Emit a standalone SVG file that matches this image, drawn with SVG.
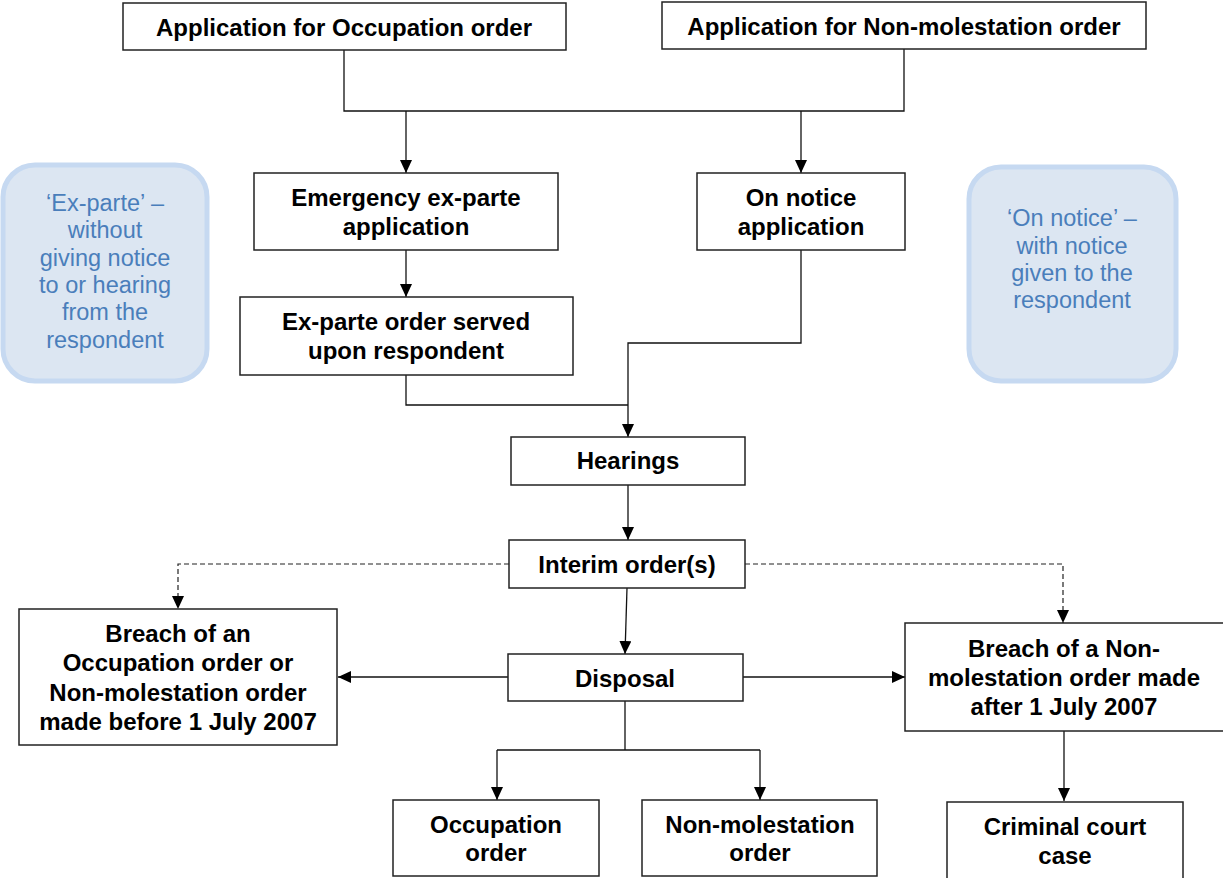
<svg xmlns="http://www.w3.org/2000/svg" width="1223" height="878" viewBox="0 0 1223 878">
<style>
.box{fill:#fff;stroke:#222;stroke-width:1.5}
.note{fill:#dce6f2;stroke:#c6d9f1;stroke-width:5}
.t{font-family:"Liberation Sans",Arial,sans-serif;font-weight:bold;font-size:24px;fill:#000;text-anchor:middle}
.n{font-family:"Liberation Sans",Arial,sans-serif;font-size:23.5px;fill:#4a7ebb;text-anchor:middle}
.c{fill:none;stroke:#111;stroke-width:1.3}
.d{fill:none;stroke:#222;stroke-width:1.2;stroke-dasharray:5 3}
</style>
<defs>
<marker id="ah" markerUnits="userSpaceOnUse" markerWidth="13" markerHeight="12" refX="13" refY="6" orient="auto">
<path d="M0,0 L13,6 L0,12 z" fill="#000"/>
</marker>
</defs>
<g id="connectors">
<path class="c" d="M344 50 V111 H904 V49"/>
<path class="c" d="M406 111 V173" marker-end="url(#ah)"/>
<path class="c" d="M801 111 V173" marker-end="url(#ah)"/>
<path class="c" d="M406 250 V297" marker-end="url(#ah)"/>
<path class="c" d="M406 375 V405 H628"/>
<path class="c" d="M801 250 V343 H628 V437" marker-end="url(#ah)"/>
<path class="c" d="M628 485 V540" marker-end="url(#ah)"/>
<path class="d" d="M509 564 H178 V609" marker-end="url(#ah)"/>
<path class="d" d="M745 564 H1063 V623" marker-end="url(#ah)"/>
<path class="c" d="M627 588 L625 654" marker-end="url(#ah)"/>
<path class="c" d="M508 677 H338" marker-end="url(#ah)"/>
<path class="c" d="M743 677 H905" marker-end="url(#ah)"/>
<path class="c" d="M1064 731 V801" marker-end="url(#ah)"/>
<path class="c" d="M625 700 V750 M497 750 H760"/>
<path class="c" d="M497 750 V800" marker-end="url(#ah)"/>
<path class="c" d="M760 750 V800" marker-end="url(#ah)"/>
</g>
<g id="note-exparte">
<rect class="note" x="3" y="165" width="204" height="216" rx="32"/>
<text class="n" x="105" y="211">‘Ex-parte’ –</text>
<text class="n" x="105" y="238">without</text>
<text class="n" x="105" y="266">giving notice</text>
<text class="n" x="105" y="293">to or hearing</text>
<text class="n" x="105" y="320">from the</text>
<text class="n" x="105" y="348">respondent</text>
</g>
<g id="note-onnotice">
<rect class="note" x="969" y="167" width="207" height="214" rx="32"/>
<text class="n" x="1072" y="226">‘On notice’ –</text>
<text class="n" x="1072" y="254">with notice</text>
<text class="n" x="1072" y="281">given to the</text>
<text class="n" x="1072" y="308">respondent</text>
</g>
<g id="app-occupation">
<rect class="box" x="123" y="3" width="443" height="47"/>
<text class="t" x="344" y="36">Application for Occupation order</text>
</g>
<g id="app-nonmol">
<rect class="box" x="662" y="2" width="484" height="47"/>
<text class="t" x="904" y="35">Application for Non-molestation order</text>
</g>
<g id="emergency">
<rect class="box" x="254" y="173" width="304" height="77"/>
<text class="t" x="406" y="206">Emergency ex-parte</text>
<text class="t" x="406" y="235">application</text>
</g>
<g id="onnotice">
<rect class="box" x="697" y="173" width="208" height="77"/>
<text class="t" x="801" y="206">On notice</text>
<text class="t" x="801" y="235">application</text>
</g>
<g id="exparte-order">
<rect class="box" x="240" y="297" width="333" height="78"/>
<text class="t" x="406" y="330">Ex-parte order served</text>
<text class="t" x="406" y="359">upon respondent</text>
</g>
<g id="hearings">
<rect class="box" x="511" y="437" width="234" height="48"/>
<text class="t" x="628" y="469">Hearings</text>
</g>
<g id="interim">
<rect class="box" x="509" y="540" width="236" height="48"/>
<text class="t" x="627" y="573">Interim order(s)</text>
</g>
<g id="disposal">
<rect class="box" x="508" y="654" width="235" height="47"/>
<text class="t" x="625" y="687">Disposal</text>
</g>
<g id="breach-before">
<rect class="box" x="19" y="609" width="318" height="136"/>
<text class="t" x="178" y="642">Breach of an</text>
<text class="t" x="178" y="671">Occupation order or</text>
<text class="t" x="178" y="701">Non-molestation order</text>
<text class="t" x="178" y="730">made before 1 July 2007</text>
</g>
<g id="breach-after">
<rect class="box" x="905" y="623" width="320" height="108"/>
<text class="t" x="1064" y="657">Breach of a Non-</text>
<text class="t" x="1064" y="686">molestation order made</text>
<text class="t" x="1064" y="715">after 1 July 2007</text>
</g>
<g id="occupation-order">
<rect class="box" x="393" y="800" width="206" height="76"/>
<text class="t" x="496" y="833">Occupation</text>
<text class="t" x="496" y="861">order</text>
</g>
<g id="nonmol-order">
<rect class="box" x="642" y="800" width="235" height="76"/>
<text class="t" x="760" y="833">Non-molestation</text>
<text class="t" x="760" y="861">order</text>
</g>
<g id="criminal">
<rect class="box" x="947" y="802" width="236" height="80"/>
<text class="t" x="1065" y="835">Criminal court</text>
<text class="t" x="1065" y="864">case</text>
</g>
</svg>
